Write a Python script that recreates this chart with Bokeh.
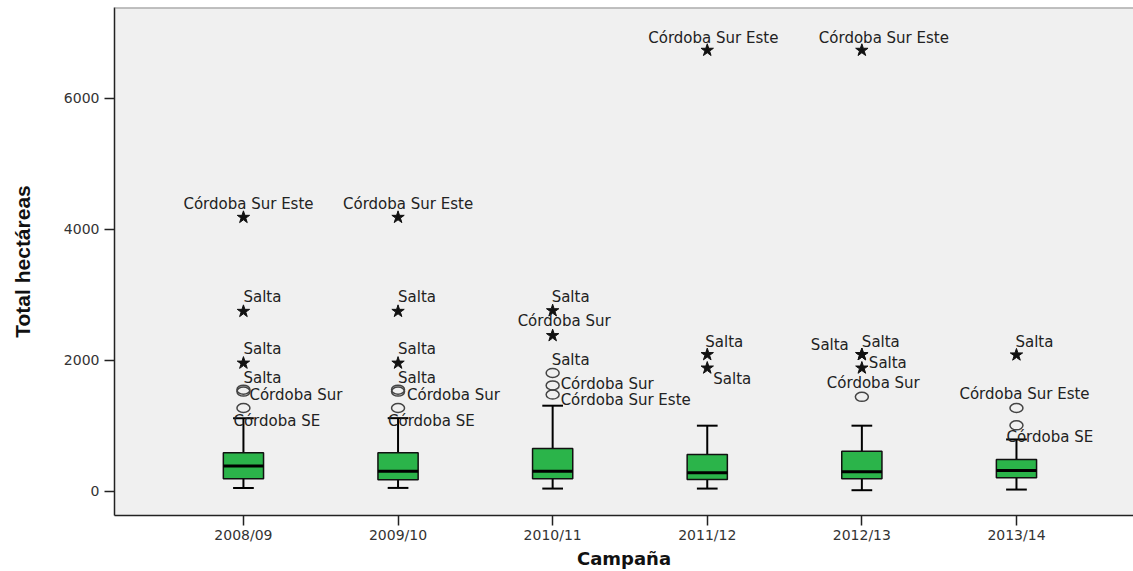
from bokeh.plotting import figure
from bokeh.models import ColumnDataSource, Range1d, FixedTicker, Span
from bokeh.core.properties import value
from bokeh.embed import file_html
from bokeh.resources import INLINE

# ---------------- data ----------------
campaigns = ["2008/09", "2009/10", "2010/11", "2011/12", "2012/13", "2013/14"]
whisker_low = [50, 50, 40, 40, 15, 25]
q1 = [190, 175, 190, 180, 190, 205]
median = [385, 305, 305, 280, 295, 315]
q3 = [585, 585, 650, 560, 610, 485]
whisker_high = [1115, 1115, 1305, 1000, 1000, 790]

# outliers (circles)
circle_campaign = ["2008/09", "2008/09", "2008/09", "2009/10", "2009/10", "2009/10",
                   "2010/11", "2010/11", "2010/11", "2012/13", "2013/14", "2013/14"]
circle_value = [1550, 1520, 1270, 1550, 1520, 1270, 1805, 1615, 1475, 1440, 1270, 1005]
circle_label = ["Salta", "Córdoba Sur", "Córdoba SE", "Salta", "Córdoba Sur", "Córdoba SE",
                "Salta", "Córdoba Sur", "Córdoba Sur Este", "Córdoba Sur",
                "Córdoba Sur Este", "Córdoba SE"]

# extreme values (stars)
star_campaign = ["2008/09", "2008/09", "2008/09", "2009/10", "2009/10", "2009/10",
                 "2010/11", "2010/11", "2011/12", "2011/12", "2011/12",
                 "2012/13", "2012/13", "2012/13", "2012/13", "2013/14"]
star_value = [4180, 2745, 1955, 4180, 2745, 1955, 2755, 2375, 6730, 2085, 1880,
              6730, 2085, 2085, 1880, 2080]
star_label = ["Córdoba Sur Este", "Salta", "Salta", "Córdoba Sur Este", "Salta", "Salta",
              "Salta", "Córdoba Sur", "Córdoba Sur Este", "Salta", "Salta",
              "Córdoba Sur Este", "Salta", "Salta", "Salta", "Salta"]

# label placement (screen pixel offsets from each point)
circle_label_dx = [0, 6, -10, 0, 9, -10, -1, 8, 8, -35, -57, -10]
circle_label_dy = [-12, 3, 13, -12, 3, 13, -13, -1, 5, -14, -14, 12]
star_label_dx = [-60, 0, 0, -55, 0, 0, -1, -35, -59, -2, 6, -43, 0, -51, 7, -1]
star_label_dy = [-13, -14, -14, -13, -14, -14, -14, -15, -12, -13, 11, -12, -13, -10, -5, -13]

# ---------------- styling ----------------
BOX_W = 0.26
CAP_W = 0.134
GREEN = "#2bb44a"
LABEL_FONT = "DejaVu Sans"

pos = {c: i for i, c in enumerate(campaigns)}
xs = [pos[c] for c in campaigns]

box_src = ColumnDataSource(dict(
    x=xs, lw=whisker_low, q1=q1, med=median, q3=q3, uw=whisker_high,
    xl=[x - BOX_W / 2 for x in xs], xr=[x + BOX_W / 2 for x in xs],
    cl=[x - CAP_W / 2 for x in xs], cr=[x + CAP_W / 2 for x in xs],
))
circ_src = ColumnDataSource(dict(
    x=[pos[c] for c in circle_campaign], y=circle_value, label=circle_label,
    dx=circle_label_dx, dy=circle_label_dy))
star_src = ColumnDataSource(dict(
    x=[pos[c] for c in star_campaign], y=star_value, label=star_label,
    dx=star_label_dx, dy=star_label_dy))

p = figure(width=1133, height=571,
           x_range=Range1d(-0.834, 5.757), y_range=Range1d(-371, 7383),
           output_backend="svg", toolbar_location=None,
           min_border_left=114, min_border_right=0, min_border_top=7, min_border_bottom=54,
           background_fill_color="#f0f0f0", border_fill_color="white",
           outline_line_color=None)
p.xgrid.visible = False
p.ygrid.visible = False

# axes
for ax in (p.xaxis[0], p.yaxis[0]):
    ax.axis_line_color = "#222222"
    ax.axis_line_width = 1.5
    ax.major_tick_line_color = "#222222"
    ax.major_tick_line_width = 1.5
    ax.major_tick_out = 10
    ax.major_tick_in = 0
    ax.minor_tick_line_color = None
    ax.major_label_text_font = "DejaVu Sans"
    ax.major_label_text_font_size = "14px"
    ax.major_label_text_color = "#333333"

p.xaxis.ticker = FixedTicker(ticks=xs)
p.xaxis.major_label_overrides = {x: c for x, c in zip(xs, campaigns)}
p.xaxis.major_label_standoff = 1
p.xaxis.axis_label = "Campaña"
p.xaxis.axis_label_text_font = "DejaVu Sans"
p.xaxis.axis_label_text_font_style = "bold"
p.xaxis.axis_label_text_font_size = "18px"
p.xaxis.axis_label_text_color = "#111111"
p.xaxis.axis_label_standoff = 2

p.yaxis.ticker = FixedTicker(ticks=[0, 2000, 4000, 6000])
p.yaxis.major_label_standoff = 5
p.yaxis.axis_label = "Total hectáreas"
p.yaxis.axis_label_text_font = "Liberation Sans"
p.yaxis.axis_label_text_font_style = "bold"
p.yaxis.axis_label_text_font_size = "21px"
p.yaxis.axis_label_text_color = "#111111"
p.yaxis.axis_label_standoff = 27

p.add_layout(Span(location=7383, dimension="width", line_color="#8a8a8a", line_width=2))

# whiskers and caps
p.segment(x0="x", y0="q3", x1="x", y1="uw", source=box_src, line_color="black", line_width=2)
p.segment(x0="x", y0="q1", x1="x", y1="lw", source=box_src, line_color="black", line_width=2)
p.segment(x0="cl", y0="uw", x1="cr", y1="uw", source=box_src, line_color="black", line_width=2)
p.segment(x0="cl", y0="lw", x1="cr", y1="lw", source=box_src, line_color="black", line_width=2)
# boxes
p.vbar(x="x", width=BOX_W, top="q3", bottom="q1", source=box_src,
       fill_color=GREEN, line_color="#111111", line_width=1.5)
p.segment(x0="xl", y0="med", x1="xr", y1="med", source=box_src, line_color="black", line_width=3)

# outliers
p.ellipse(x="x", y="y", width=13, height=9, width_units="screen", height_units="screen",
          source=circ_src, fill_color=None, line_color="#444444", line_width=1.5)
p.scatter(x="x", y="y", marker="star", size=13, source=star_src,
          fill_color="#111111", line_color="#111111")

for src in (circ_src, star_src):
    p.text(x="x", y="y", text="label", x_offset="dx", y_offset="dy", source=src,
           text_font=value(LABEL_FONT), text_font_size="15px", text_color="#222222",
           text_align="left", text_baseline="middle")

open("out.html", "w").write(file_html(p, INLINE))
